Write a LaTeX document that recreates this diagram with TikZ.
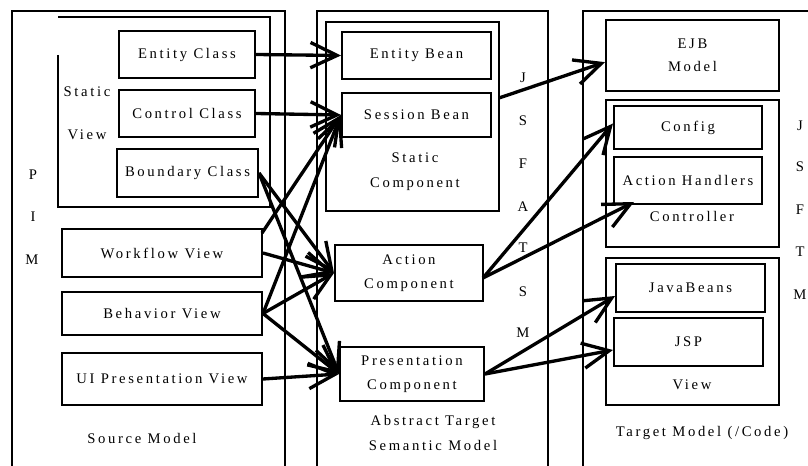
\documentclass[tikz,border=0pt]{standalone}
\usepackage{fontspec}
\setmainfont{Liberation Serif}[LetterSpace=18]
\usetikzlibrary{arrows.meta,fit}
\begin{document}
\begin{tikzpicture}[x=0.75pt,y=-0.75pt,
  frame/.style={line width=1pt},
  inframe/.style={draw, line width=1.5pt, inner sep=0pt},
  box/.style={draw, line width=1.5pt, inner sep=0pt, align=center, font=\fontsize{11}{13.2}\selectfont},
  lbl/.style={inner sep=0pt, align=center, font=\fontsize{11}{18.5}\selectfont},
  arr/.style={line width=2.5pt, -{Straight Barb[length=20pt,width=19pt]}}]
\useasboundingbox (0,0) rectangle (808,466);
\fill[white] (0,0) rectangle (808,466);
% outer frames
\draw[frame] (12,466) -- (12,11) -- (285,11) -- (285,466);
\draw[frame] (317,466) -- (317,11) -- (548,11) -- (548,466);
\draw[frame] (583,466) -- (583,11) -- (808,11);
% static view frame
\draw[line width=1.5pt] (58,55) -- (58,207) -- (270,207) -- (270,17) -- (58,17);
% source model
\node[box, minimum width=102pt, minimum height=35.25pt] (ec) at (187,54.5) {Entity Class};
\node[box, minimum width=102pt, minimum height=35.25pt] (cc) at (187,113.5) {Control Class};
\node[box, minimum width=105.75pt, minimum height=36pt] (bc) at (187.5,173) {Boundary Class};
\node[box, minimum width=150pt, minimum height=36pt] (wf) at (162,253) {Workflow View};
\node[box, minimum width=150pt, minimum height=32.25pt] (bv) at (162,313.5) {Behavior View};
\node[box, minimum width=150pt, minimum height=39pt] (ui) at (162,379) {UI Presentation View};
\node[lbl] (stv1) at (87,92) {Static};
\node[lbl] (stv2) at (87,135) {View};
\node[lbl] (p1) at (33,175) {P};
\node[lbl] (p2) at (33,217) {I};
\node[lbl] (p3) at (32,260) {M};
\node[lbl] (srcm) at (142,438) {Source Model};
% abstract target semantic model
\node[inframe, fit={(326,22) (499,211)}] (scf) {};
\node[box, minimum width=111.75pt, minimum height=35.25pt] (eb) at (416.5,55.5) {Entity Bean};
\node[box, minimum width=111.75pt, minimum height=33pt] (sb) at (416.5,115) {Session Bean};
\node[lbl] (sclbl) at (415,172) {Static\\Component};
\node[box, minimum width=111pt, minimum height=42pt] (ac) at (409,273) {Action\\[4.8pt]Component};
\node[box, minimum width=108pt, minimum height=40.5pt] (pc) at (412,374) {Presentation\\[4.8pt]Component};
\node[lbl] (atsm) at (433,433) {Abstract Target\\Semantic Model};
\foreach \l/\yy [count=\i] in {J/78,S/121,F/164,A/207,T/248,S/292,M/333}
  \node[lbl] (mj\i) at (523,\yy) {\l};
% target model
\node[box, minimum width=129.75pt, minimum height=53.25pt] (ejb) at (692.5,55.5) {EJB\\[4.2pt]Model};
\node[inframe, fit={(606,100) (779,247)}] (ctl) {};
\node[box, minimum width=111pt, minimum height=32.25pt] (cfg) at (688,127.5) {Config};
\node[box, minimum width=111pt, minimum height=35.25pt] (ah) at (688,180.5) {Action Handlers};
\node[lbl] (ctllbl) at (692,216) {Controller};
\node[inframe, fit={(606,258) (779,405)}] (vw) {};
\node[box, minimum width=111.75pt, minimum height=36pt] (jb) at (690.5,288) {JavaBeans};
\node[box, minimum width=111.75pt, minimum height=36pt] (jsp) at (688.5,342) {JSP};
\node[lbl] (vwlbl) at (692,385) {View};
\node[lbl] (tm) at (702,433) {Target Model (/Code)};
\foreach \l/\yy [count=\i] in {J/126,S/167,F/210,T/252,M/295}
  \node[lbl] (rj\i) at (800,\yy) {\l};
% connectors
\coordinate (wf1) at (262,233);
\coordinate (scx) at (499,98);
\coordinate (ac1) at (483,278);
\draw[arr] (ec.east) -- (eb.west);
\draw[arr] (cc.east) -- (sb.west);
\draw[arr] (wf1) -- (sb.west);
\draw[arr] (bv.east) -- (sb.west);
\draw[arr] (bc.east) -- (ac.west);
\draw[arr] (bc.east) -- (pc.west);
\draw[arr] (wf.east) -- (ac.west);
\draw[arr] (bv.east) -- (ac.west);
\draw[arr] (bv.east) -- (pc.west);
\draw[arr] (ui.east) -- (pc.west);
\draw[arr] (scx) -- ([yshift=-5pt]ejb.west);
\draw[arr] (ac1) -- ([yshift=3pt]cfg.west);
\draw[arr] (ac1) -- ([xshift=15.75pt,yshift=2.25pt]ah.south west);
\draw[arr] (pc.east) -- ([yshift=-6pt]jb.west);
\draw[arr] (pc.east) -- ([yshift=-6pt]jsp.west);
\end{tikzpicture}
\end{document}
